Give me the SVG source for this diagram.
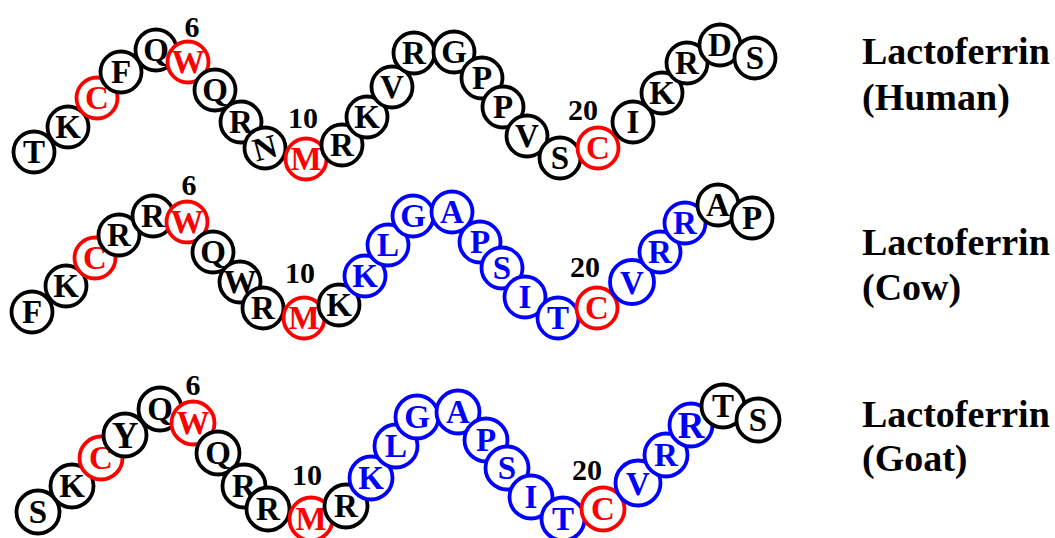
<svg xmlns="http://www.w3.org/2000/svg" width="1055" height="538" viewBox="0 0 1055 538">
<style>
circle{fill:#fff;stroke-width:3.8}
text{font-family:"Liberation Serif","Times New Roman",serif;font-weight:bold}
.res text{font-size:33px;text-anchor:middle}
.k circle{stroke:#000}.k text{fill:#000}
.r circle{stroke:#f00}.r text{fill:#f00}
.b circle{stroke:#00f}.b text{fill:#00f}
.num{font-size:30px;text-anchor:middle;fill:#000}
.title{font-size:38px;fill:#000}
.bb{fill:none;stroke:#8b0020;stroke-width:5;stroke-linejoin:round}
</style>
<g id="connectors">
<polyline class="bb" points="34,152 68,127 97,98 121,72 156,50 188,62 215,90 241,122 265,148 306,159 342,145 367,117 392,87 414,53 454,52 482,78 503,107 527,136 560,158 598,148 633,122 662,93 687,63 720,45 755,58"/>
<polyline class="bb" points="32,312 66,286 95,258 119,235 153,216 187,222 213,252 240,282 263,308 304,318 339,305 365,276 388,245 413,216 452,212 480,242 502,268 525,297 558,318 597,308 632,282 660,252 685,223 718,205 752,218"/>
<polyline class="bb" points="38,512 72,486 101,458 125,435 160,409 193,423 218,453 244,486 268,509 311,519 346,506 371,478 396,446 417,417 458,412 486,440 507,468 531,497 563,519 603,509 638,483 666,455 691,425 723,406 758,420"/>
</g>
<g id="human" class="res">
<g id="h1" class="k"><circle cx="34" cy="152" r="20.5"/><text x="34" y="163">T</text></g>
<g id="h2" class="k"><circle cx="68" cy="127" r="20.5"/><text x="68" y="138">K</text></g>
<g id="h3" class="r"><circle cx="97" cy="98" r="20.5"/><text x="97" y="109">C</text></g>
<g id="h4" class="k"><circle cx="121" cy="72" r="20.5"/><text x="121" y="83">F</text></g>
<g id="h5" class="k"><circle cx="156" cy="50" r="20.5"/><text x="156" y="61">Q</text></g>
<g id="h6" class="r"><circle cx="188" cy="62" r="20.5"/><text x="188" y="73">W</text></g>
<g id="h7" class="k"><circle cx="215" cy="90" r="20.5"/><text x="215" y="101">Q</text></g>
<g id="h8" class="k"><circle cx="241" cy="122" r="20.5"/><text x="241" y="133">R</text></g>
<g id="h9" class="k"><circle cx="265" cy="148" r="20.5"/><text x="265" y="159" transform="rotate(-15 265 148)">N</text></g>
<g id="h10" class="r"><circle cx="306" cy="159" r="20.5"/><text x="306" y="170">M</text></g>
<g id="h11" class="k"><circle cx="342" cy="145" r="20.5"/><text x="342" y="156">R</text></g>
<g id="h12" class="k"><circle cx="367" cy="117" r="20.5"/><text x="367" y="128">K</text></g>
<g id="h13" class="k"><circle cx="392" cy="87" r="20.5"/><text x="392" y="98">V</text></g>
<g id="h14" class="k"><circle cx="414" cy="53" r="20.5"/><text x="414" y="64">R</text></g>
<g id="h15" class="k"><circle cx="454" cy="52" r="20.5"/><text x="454" y="63">G</text></g>
<g id="h16" class="k"><circle cx="482" cy="78" r="20.5"/><text x="482" y="89">P</text></g>
<g id="h17" class="k"><circle cx="503" cy="107" r="20.5"/><text x="503" y="118">P</text></g>
<g id="h18" class="k"><circle cx="527" cy="136" r="20.5"/><text x="527" y="147">V</text></g>
<g id="h19" class="k"><circle cx="560" cy="158" r="20.5"/><text x="560" y="169">S</text></g>
<g id="h20" class="r"><circle cx="598" cy="148" r="20.5"/><text x="598" y="159">C</text></g>
<g id="h21" class="k"><circle cx="633" cy="122" r="20.5"/><text x="633" y="133">I</text></g>
<g id="h22" class="k"><circle cx="662" cy="93" r="20.5"/><text x="662" y="104">K</text></g>
<g id="h23" class="k"><circle cx="687" cy="63" r="20.5"/><text x="687" y="74">R</text></g>
<g id="h24" class="k"><circle cx="720" cy="45" r="20.5"/><text x="720" y="56">D</text></g>
<g id="h25" class="k"><circle cx="755" cy="58" r="20.5"/><text x="755" y="69">S</text></g>
</g>
<g id="cow" class="res">
<g id="c1" class="k"><circle cx="32" cy="312" r="20.5"/><text x="32" y="323">F</text></g>
<g id="c2" class="k"><circle cx="66" cy="286" r="20.5"/><text x="66" y="297">K</text></g>
<g id="c3" class="r"><circle cx="95" cy="258" r="20.5"/><text x="95" y="269">C</text></g>
<g id="c4" class="k"><circle cx="119" cy="235" r="20.5"/><text x="119" y="246">R</text></g>
<g id="c5" class="k"><circle cx="153" cy="216" r="20.5"/><text x="153" y="227">R</text></g>
<g id="c6" class="r"><circle cx="187" cy="222" r="20.5"/><text x="187" y="233">W</text></g>
<g id="c7" class="k"><circle cx="213" cy="252" r="20.5"/><text x="213" y="263">Q</text></g>
<g id="c8" class="k"><circle cx="240" cy="282" r="20.5"/><text x="240" y="293">W</text></g>
<g id="c9" class="k"><circle cx="263" cy="308" r="20.5"/><text x="263" y="319">R</text></g>
<g id="c10" class="r"><circle cx="304" cy="318" r="20.5"/><text x="304" y="329">M</text></g>
<g id="c11" class="k"><circle cx="339" cy="305" r="20.5"/><text x="339" y="316">K</text></g>
<g id="c12" class="b"><circle cx="365" cy="276" r="20.5"/><text x="365" y="287">K</text></g>
<g id="c13" class="b"><circle cx="388" cy="245" r="20.5"/><text x="388" y="256">L</text></g>
<g id="c14" class="b"><circle cx="413" cy="216" r="20.5"/><text x="413" y="227">G</text></g>
<g id="c15" class="b"><circle cx="452" cy="212" r="20.5"/><text x="452" y="223">A</text></g>
<g id="c16" class="b"><circle cx="480" cy="242" r="20.5"/><text x="480" y="253">P</text></g>
<g id="c17" class="b"><circle cx="502" cy="268" r="20.5"/><text x="502" y="279">S</text></g>
<g id="c18" class="b"><circle cx="525" cy="297" r="20.5"/><text x="525" y="308">I</text></g>
<g id="c19" class="b"><circle cx="558" cy="318" r="20.5"/><text x="558" y="329">T</text></g>
<g id="c20" class="r"><circle cx="597" cy="308" r="20.5"/><text x="597" y="319">C</text></g>
<g id="c21" class="b"><circle cx="632" cy="282" r="22"/><text x="632" y="294">V</text></g>
<g id="c22" class="b"><circle cx="660" cy="252" r="20.5"/><text x="660" y="263">R</text></g>
<g id="c23" class="b"><circle cx="685" cy="223" r="20.5"/><text x="685" y="234">R</text></g>
<g id="c24" class="k"><circle cx="718" cy="205" r="20.5"/><text x="718" y="216">A</text></g>
<g id="c25" class="k"><circle cx="752" cy="218" r="20.5"/><text x="752" y="229">P</text></g>
</g>
<g id="goat" class="res">
<g id="g1" class="k"><circle cx="38" cy="512" r="21.5"/><text x="38" y="523">S</text></g>
<g id="g2" class="k"><circle cx="72" cy="486" r="21.5"/><text x="72" y="497">K</text></g>
<g id="g3" class="r"><circle cx="101" cy="458" r="21.5"/><text x="101" y="469">C</text></g>
<g id="g4" class="k"><circle cx="125" cy="435" r="21.5"/><text x="125" y="448" style="font-size:37px">Y</text></g>
<g id="g5" class="k"><circle cx="160" cy="409" r="21.5"/><text x="160" y="420">Q</text></g>
<g id="g6" class="r"><circle cx="193" cy="423" r="21.5"/><text x="193" y="434">W</text></g>
<g id="g7" class="k"><circle cx="218" cy="453" r="21.5"/><text x="218" y="464">Q</text></g>
<g id="g8" class="k"><circle cx="244" cy="486" r="21.5"/><text x="244" y="497">R</text></g>
<g id="g9" class="k"><circle cx="268" cy="509" r="21.5"/><text x="268" y="520">R</text></g>
<g id="g10" class="r"><circle cx="311" cy="519" r="21.5"/><text x="311" y="530">M</text></g>
<g id="g11" class="k"><circle cx="346" cy="506" r="21.5"/><text x="346" y="517">R</text></g>
<g id="g12" class="b"><circle cx="371" cy="478" r="21.5"/><text x="371" y="489">K</text></g>
<g id="g13" class="b"><circle cx="396" cy="446" r="21.5"/><text x="396" y="457">L</text></g>
<g id="g14" class="b"><circle cx="417" cy="417" r="21.5"/><text x="417" y="428">G</text></g>
<g id="g15" class="b"><circle cx="458" cy="412" r="21.5"/><text x="458" y="423">A</text></g>
<g id="g16" class="b"><circle cx="486" cy="440" r="21.5"/><text x="486" y="451">P</text></g>
<g id="g17" class="b"><circle cx="507" cy="468" r="21.5"/><text x="507" y="479">S</text></g>
<g id="g18" class="b"><circle cx="531" cy="497" r="21.5"/><text x="531" y="508">I</text></g>
<g id="g19" class="b"><circle cx="563" cy="519" r="21.5"/><text x="563" y="530">T</text></g>
<g id="g20" class="r"><circle cx="603" cy="509" r="21.5"/><text x="603" y="520">C</text></g>
<g id="g21" class="b"><circle cx="638" cy="483" r="22.5"/><text x="638" y="495">V</text></g>
<g id="g22" class="b"><circle cx="666" cy="455" r="21.5"/><text x="666" y="466">R</text></g>
<g id="g23" class="b"><circle cx="691" cy="425" r="21.5"/><text x="691" y="438" style="font-size:37px">R</text></g>
<g id="g24" class="k"><circle cx="723" cy="406" r="21.5"/><text x="723" y="417">T</text></g>
<g id="g25" class="k"><circle cx="758" cy="420" r="21.5"/><text x="758" y="431">S</text></g>
</g>
<g id="numbers">
<text class="num" x="192" y="37">6</text>
<text class="num" x="303" y="128">10</text>
<text class="num" x="583" y="120">20</text>
<text class="num" x="189" y="195">6</text>
<text class="num" x="300" y="283">10</text>
<text class="num" x="585" y="277">20</text>
<text class="num" x="193" y="395">6</text>
<text class="num" x="307" y="485">10</text>
<text class="num" x="587" y="480">20</text>
</g>
<g id="titles">
<text class="title" x="862" y="64">Lactoferrin</text>
<text class="title" x="862" y="110">(Human)</text>
<text class="title" x="862" y="255">Lactoferrin</text>
<text class="title" x="862" y="300">(Cow)</text>
<text class="title" x="862" y="427">Lactoferrin</text>
<text class="title" x="862" y="471">(Goat)</text>
</g>
</svg>
